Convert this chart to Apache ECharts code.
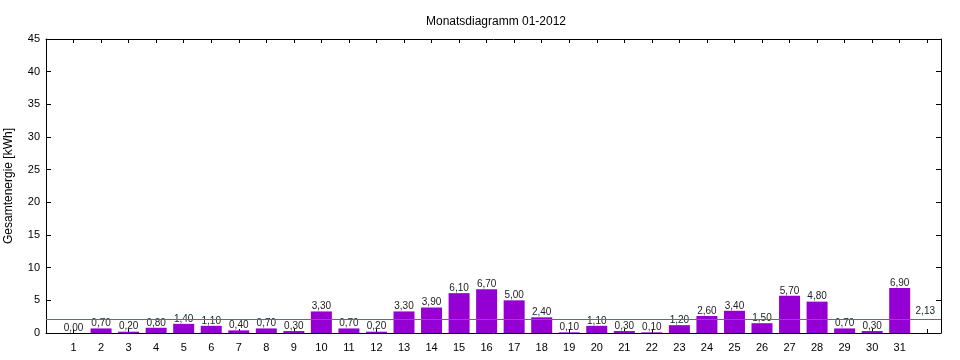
<!DOCTYPE html>
<html><head><meta charset="utf-8">
<script src="https://cdn.jsdelivr.net/npm/echarts@6/dist/echarts.min.js"></script>
<style>html,body{margin:0;padding:0;background:#fff}#c{width:960px;height:360px}</style>
</head><body><div id="c"></div>
<script>
const days = [1,2,3,4,5,6,7,8,9,10,11,12,13,14,15,16,17,18,19,20,21,22,23,24,25,26,27,28,29,30,31];
const energy = [0.0,0.7,0.2,0.8,1.4,1.1,0.4,0.7,0.3,3.3,0.7,0.2,3.3,3.9,6.1,6.7,5.0,2.4,0.1,1.1,0.3,0.1,1.2,2.6,3.4,1.5,5.7,4.8,0.7,0.3,6.9];
const average = 2.13;
const title = 'Monatsdiagramm 01-2012';
const yName = 'Gesamtenergie [kWh]';
const yTicks = [0,5,10,15,20,25,30,35,40,45];

const fmt = v => v.toFixed(2).replace('.', ',');
const font = 'Liberation Sans, Arial, sans-serif';
const chart = echarts.init(document.getElementById('c'), null, {renderer:'canvas'});
const axisLine = {show:true, onZero:false, lineStyle:{color:'#000', width:1}};
chart.setOption({
  animation:false,
  title:{text:title, left:491, top:11, textAlign:'center', textStyle:{fontFamily:font, fontSize:12, fontWeight:'normal', color:'#000'}},
  grid:{left:46, right:19, top:39, bottom:27, containLabel:false, outerBoundsMode:'none'},
  xAxis:[{
    type:'value', min:0, max:32.5, interval:1, position:'bottom',
    axisLine, axisTick:{show:true, inside:true, length:4, lineStyle:{color:'#000'}},
    splitLine:{show:false},
    axisLabel:{fontFamily:font, fontSize:11, color:'#000', margin:9,
      formatter: v => (days.indexOf(v) >= 0 ? String(v) : '')}
  },{
    type:'value', min:0, max:32.5, interval:1, position:'top',
    axisLine, axisTick:{show:true, inside:true, length:4, lineStyle:{color:'#000'}},
    splitLine:{show:false}, axisLabel:{show:false}
  }],
  yAxis:[{
    type:'value', min:0, max:yTicks[yTicks.length-1], interval:5, position:'left',
    name:yName, nameLocation:'middle', nameGap:31,
    nameTextStyle:{fontFamily:font, fontSize:12, color:'#000'},
    axisLine, axisTick:{show:true, inside:true, length:5, lineStyle:{color:'#000'}},
    splitLine:{show:false},
    axisLabel:{fontFamily:font, fontSize:11, color:'#000', margin:6}
  },{
    type:'value', min:0, max:yTicks[yTicks.length-1], interval:5, position:'right',
    axisLine, axisTick:{show:true, inside:true, length:5, lineStyle:{color:'#000'}},
    splitLine:{show:false}, axisLabel:{show:false}
  }],
  series:[{
    type:'bar', xAxisIndex:0, yAxisIndex:0,
    data: days.map((d,i)=>[d, energy[i]]),
    barWidth:21,
    itemStyle:{color:'#9400D3'},
    label:{show:true, position:'top', distance:0, fontFamily:font, fontSize:10, color:'#222',
      formatter: p => fmt(p.value[1])},
    markLine:{
      silent:true, symbol:'none', z:10,
      lineStyle:{color:'#16937a', width:1, type:'solid', opacity:1},
      label:{show:true, position:'insideEndTop', formatter: () => fmt(average),
        fontFamily:font, fontSize:10, color:'#222', distance:[6,3]},
      data:[{yAxis:average}]
    }
  }]
});
</script></body></html>
